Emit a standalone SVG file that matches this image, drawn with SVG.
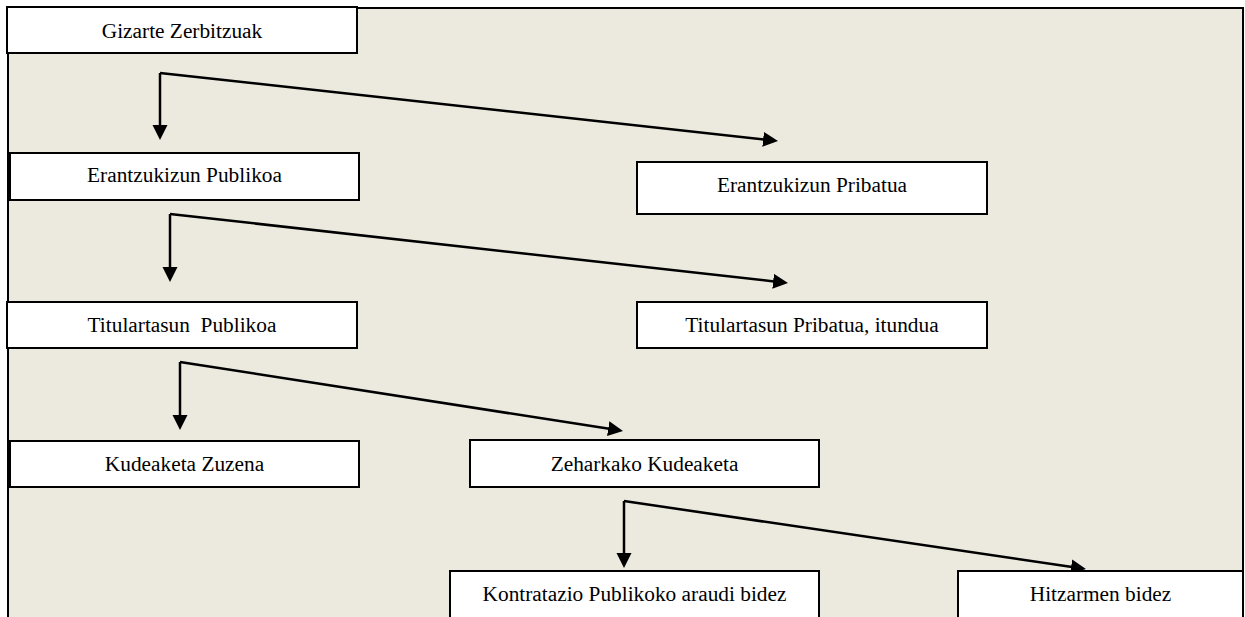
<svg xmlns="http://www.w3.org/2000/svg" width="1245" height="617" viewBox="0 0 1245 617">
  <style>
    .box { fill: #ffffff; stroke: #000000; stroke-width: 2; }
    .lbl { font-family: "Liberation Serif", "Times New Roman", serif; font-size: 21.33px; fill: #000000; text-anchor: middle; }
    .conn { fill: none; stroke: #000000; stroke-width: 2.5; stroke-linejoin: miter; }
  </style>
  <defs>
    <marker id="arrow" markerUnits="userSpaceOnUse" markerWidth="16" markerHeight="16" viewBox="0 0 16 16" refX="1" refY="7.5" orient="auto">
      <path d="M0,0 L15,7.5 L0,15 z" fill="#000000"/>
    </marker>
  </defs>
  <rect x="0" y="0" width="1245" height="617" fill="#ffffff"/>
  <rect id="frame" x="8" y="8" width="1235" height="630" fill="#ECE9DF" stroke="#000000" stroke-width="2"/>

  <g id="connectors">
    <path class="conn" d="M160,73 L160,126" marker-end="url(#arrow)"/>
    <path class="conn" d="M160,73 L764.1,139.5" marker-end="url(#arrow)"/>
    <path class="conn" d="M170,214 L170,268" marker-end="url(#arrow)"/>
    <path class="conn" d="M170,214 L774.1,281.4" marker-end="url(#arrow)"/>
    <path class="conn" d="M180,362 L180,416" marker-end="url(#arrow)"/>
    <path class="conn" d="M180,362 L609.2,428.8" marker-end="url(#arrow)"/>
    <path class="conn" d="M624,501 L624,554" marker-end="url(#arrow)"/>
    <path class="conn" d="M624,501 L1072.1,567" marker-end="url(#arrow)"/>
  </g>

  <g id="gizarte-zerbitzuak">
    <rect class="box" x="7" y="7" width="350" height="46"/>
    <text class="lbl" x="182" y="38">Gizarte Zerbitzuak</text>
  </g>
  <g id="erantzukizun-publikoa">
    <rect class="box" x="10" y="153" width="349" height="47"/>
    <text class="lbl" x="184.5" y="182">Erantzukizun Publikoa</text>
  </g>
  <g id="erantzukizun-pribatua">
    <rect class="box" x="637" y="162" width="350" height="52"/>
    <text class="lbl" x="812" y="192">Erantzukizun Pribatua</text>
  </g>
  <g id="titulartasun-publikoa">
    <rect class="box" x="7" y="302" width="350" height="46"/>
    <text class="lbl" x="182" y="332" xml:space="preserve">Titulartasun  Publikoa</text>
  </g>
  <g id="titulartasun-pribatua">
    <rect class="box" x="637" y="302" width="350" height="46"/>
    <text class="lbl" x="812" y="332">Titulartasun Pribatua, itundua</text>
  </g>
  <g id="kudeaketa-zuzena">
    <rect class="box" x="10" y="441" width="349" height="46"/>
    <text class="lbl" x="184.5" y="471">Kudeaketa Zuzena</text>
  </g>
  <g id="zeharkako-kudeaketa">
    <rect class="box" x="470" y="440" width="349" height="47"/>
    <text class="lbl" x="644.5" y="471">Zeharkako Kudeaketa</text>
  </g>
  <g id="kontratazio">
    <rect class="box" x="450" y="571" width="369" height="60"/>
    <text class="lbl" x="634.5" y="601">Kontratazio Publikoko araudi bidez</text>
  </g>
  <g id="hitzarmen-bidez">
    <rect class="box" x="958" y="571" width="285" height="60"/>
    <text class="lbl" x="1100.5" y="601">Hitzarmen bidez</text>
  </g>
</svg>
